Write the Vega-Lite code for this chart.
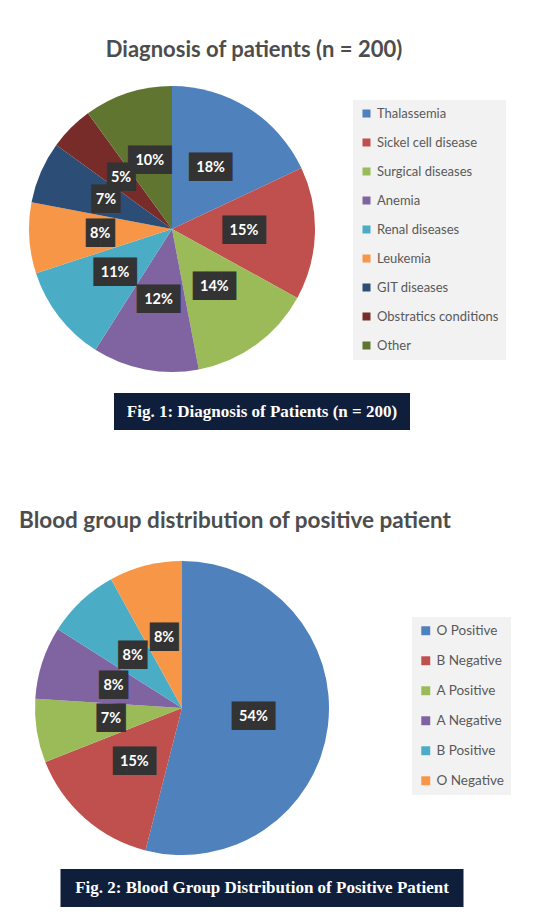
{
  "$schema": "https://vega.github.io/schema/vega-lite/v6.json",
  "background": "white",
  "padding": {"left": 7, "top": 21, "right": 0, "bottom": 0},
  "config": {
    "view": {"stroke": null, "fill": "#e8e8e8"},
    "text": {"baseline": "middle"}
  },
  "datasets": {
    "diag": [
      {"idx": 1, "diagnosis": "Thalassemia", "share": 0.18},
      {"idx": 2, "diagnosis": "Sickel cell disease", "share": 0.15},
      {"idx": 3, "diagnosis": "Surgical diseases", "share": 0.14},
      {"idx": 4, "diagnosis": "Anemia", "share": 0.12},
      {"idx": 5, "diagnosis": "Renal diseases", "share": 0.11},
      {"idx": 6, "diagnosis": "Leukemia", "share": 0.08},
      {"idx": 7, "diagnosis": "GIT diseases", "share": 0.07},
      {"idx": 8, "diagnosis": "Obstratics conditions", "share": 0.05},
      {"idx": 9, "diagnosis": "Other", "share": 0.10}
    ],
    "blood": [
      {"idx": 1, "group": "O Positive", "share": 0.54},
      {"idx": 2, "group": "B Negative", "share": 0.15},
      {"idx": 3, "group": "A Positive", "share": 0.07},
      {"idx": 4, "group": "A Negative", "share": 0.08},
      {"idx": 5, "group": "B Positive", "share": 0.08},
      {"idx": 6, "group": "O Negative", "share": 0.08}
    ]
  },
  "resolve": {"scale": {"color": "independent"}, "legend": {"color": "independent"}},
  "spacing": 68,
  "center": true,
  "vconcat": [
    {
      "spacing": 9,
      "center": true,
      "resolve": {"scale": {"color": "independent"}, "legend": {"color": "independent"}},
      "vconcat": [
        {
          "spacing": 0,
          "resolve": {"scale": {"color": "independent"}, "legend": {"color": "independent"}},
          "vconcat": [
            {
              "width": 510, "height": 53,
              "data": {"values": [{"title": "Diagnosis of patients (n = 200)"}]},
              "mark": {"type": "text", "font": "Lato", "fontWeight": "bold", "fontSize": 22, "color": "#4d4d4d", "dx": -8, "dy": 2},
              "encoding": {"text": {"field": "title", "type": "nominal"}}
            },
            {
              "spacing": 0,
              "bounds": "flush",
              "resolve": {"scale": {"color": "independent"}, "legend": {"color": "independent"}},
              "hconcat": [
                {
                  "width": 330, "height": 310,
                  "data": {"name": "diag"},
                  "encoding": {
                    "theta": {"field": "share", "type": "quantitative", "stack": true},
                    "order": {"field": "idx", "type": "quantitative"},
                    "detail": {"field": "diagnosis", "type": "nominal"}
                  },
                  "layer": [
                    {
                      "mark": {"type": "arc", "outerRadius": 143},
                      "encoding": {
                        "color": {
                          "field": "diagnosis", "type": "nominal",
                          "scale": {
                            "domain": ["Thalassemia", "Sickel cell disease", "Surgical diseases", "Anemia", "Renal diseases", "Leukemia", "GIT diseases", "Obstratics conditions", "Other"],
                            "range": ["#4F81BD", "#C0504D", "#9BBB59", "#8064A2", "#4BACC6", "#F79646", "#2C4D75", "#772C2A", "#5F7530"]
                          },
                          "legend": {
                            "orient": "none", "legendX": 346, "legendY": 26, "title": null,
                            "symbolType": "square", "symbolSize": 64, "symbolStrokeWidth": 0,
                            "labelFont": "Lato", "labelFontSize": 13, "labelColor": "#595959",
                            "labelOffset": 4, "rowPadding": 15, "padding": 7,
                            "fillColor": "#f2f2f2"
                          }
                        }
                      }
                    },
                    {
                      "mark": {"type": "text", "radius": 72, "font": "DejaVu Sans Mono", "fontSize": 24, "color": "#333333"},
                      "encoding": {"text": {"condition": {"test": "datum.share >= 0.1", "value": "███"}, "value": "██"}}
                    },
                    {
                      "mark": {"type": "text", "radius": 72, "font": "Lato", "fontWeight": "bold", "fontSize": 14.5, "color": "white"},
                      "encoding": {"text": {"field": "share", "type": "quantitative", "format": ".0%"}}
                    }
                  ]
                },
                {
                  "width": 180, "height": 310,
                  "data": {"values": [{}]},
                  "mark": {"type": "point", "opacity": 0},
                  "encoding": {}
                }
              ]
            }
          ]
        },
        {
          "width": 296, "height": 37,
          "view": {"fill": "#0f1f3b"},
          "data": {"values": [{"caption": "Fig. 1: Diagnosis of Patients (n = 200)"}]},
          "mark": {"type": "text", "font": "Liberation Serif", "fontWeight": "bold", "fontSize": 17, "color": "white"},
          "encoding": {"text": {"field": "caption", "type": "nominal"}}
        }
      ]
    },
    {
      "spacing": 6,
      "center": true,
      "resolve": {"scale": {"color": "independent"}, "legend": {"color": "independent"}},
      "vconcat": [
        {
          "spacing": 0,
          "resolve": {"scale": {"color": "independent"}, "legend": {"color": "independent"}},
          "vconcat": [
            {
              "width": 510, "height": 55,
              "data": {"values": [{"title": "Blood group distribution of positive patient"}]},
              "mark": {"type": "text", "font": "Lato", "fontWeight": "bold", "fontSize": 22.5, "color": "#4d4d4d", "align": "left", "dx": -243, "dy": -5},
              "encoding": {"text": {"field": "title", "type": "nominal"}}
            },
            {
              "spacing": 0,
              "bounds": "flush",
              "resolve": {"scale": {"color": "independent"}, "legend": {"color": "independent"}},
              "hconcat": [
                {
                  "width": 350, "height": 310,
                  "data": {"name": "blood"},
                  "encoding": {
                    "theta": {"field": "share", "type": "quantitative", "stack": true},
                    "order": {"field": "idx", "type": "quantitative"},
                    "detail": {"field": "group", "type": "nominal"}
                  },
                  "layer": [
                    {
                      "mark": {"type": "arc", "outerRadius": 147},
                      "encoding": {
                        "color": {
                          "field": "group", "type": "nominal",
                          "scale": {
                            "domain": ["O Positive", "B Negative", "A Positive", "A Negative", "B Positive", "O Negative"],
                            "range": ["#4F81BD", "#C0504D", "#9BBB59", "#8064A2", "#4BACC6", "#F79646"]
                          },
                          "legend": {
                            "orient": "none", "legendX": 405, "legendY": 64, "title": null,
                            "symbolType": "square", "symbolSize": 80, "symbolStrokeWidth": 0,
                            "labelFont": "Lato", "labelFontSize": 13.5, "labelColor": "#595959",
                            "labelOffset": 4, "rowPadding": 15, "padding": 7,
                            "fillColor": "#f2f2f2"
                          }
                        }
                      }
                    },
                    {
                      "mark": {"type": "text", "radius": 72, "font": "DejaVu Sans Mono", "fontSize": 24, "color": "#333333"},
                      "encoding": {"text": {"condition": {"test": "datum.share >= 0.1", "value": "███"}, "value": "██"}}
                    },
                    {
                      "mark": {"type": "text", "radius": 72, "font": "Lato", "fontWeight": "bold", "fontSize": 14.5, "color": "white"},
                      "encoding": {"text": {"field": "share", "type": "quantitative", "format": ".0%"}}
                    }
                  ]
                },
                {
                  "width": 160, "height": 310,
                  "data": {"values": [{}]},
                  "mark": {"type": "point", "opacity": 0},
                  "encoding": {}
                }
              ]
            }
          ]
        },
        {
          "width": 403, "height": 38,
          "view": {"fill": "#0f1f3b"},
          "data": {"values": [{"caption": "Fig. 2: Blood Group Distribution of Positive Patient"}]},
          "mark": {"type": "text", "font": "Liberation Serif", "fontWeight": "bold", "fontSize": 17, "color": "white"},
          "encoding": {"text": {"field": "caption", "type": "nominal"}}
        }
      ]
    }
  ]
}
